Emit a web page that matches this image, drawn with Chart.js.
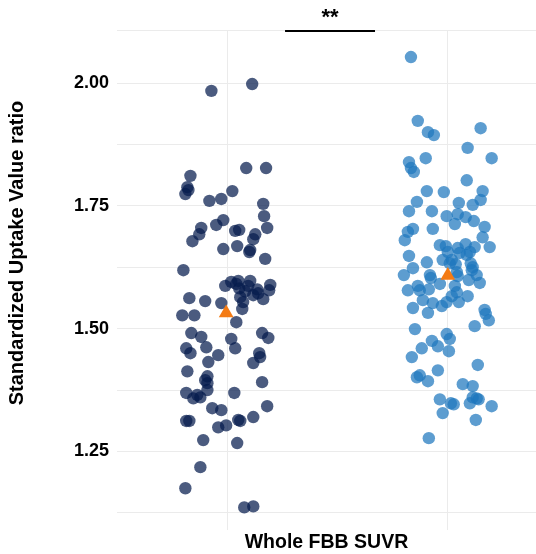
<!DOCTYPE html>
<html><head><meta charset="utf-8">
<script src="https://cdn.jsdelivr.net/npm/chart.js@4"></script>
<style>html,body{margin:0;padding:0;background:#fff;}canvas{display:block;}</style>
</head><body>
<canvas id="c" width="536" height="554"></canvas>
<script>
// ---- data ----
const groupPositions = [1, 2];
const leftJitter = [-0.072,0.113,0.086,0.176,-0.167,-0.181,-0.176,-0.190,0.023,-0.081,-0.027,0.163,0.167,-0.018,-0.050,-0.118,-0.127,-0.158,0.181,0.036,0.054,0.127,0.118,0.045,-0.018,0.100,0.104,0.172,-0.199,
  -0.009,0.018,0.050,0.104,0.054,0.081,0.136,0.195,0.190,0.118,0.140,0.163,0.059,0.072,0.068,0.041,0.095,
  -0.172,-0.100,-0.027,-0.204,-0.149,0.041,-0.163,-0.118,-0.186,-0.167,-0.095,-0.041,0.018,0.036,0.158,0.186,0.145,0.149,0.118,-0.086,-0.181,-0.090,-0.100,-0.090,0.158,-0.186,-0.154,-0.136,-0.122,-0.090,0.032,-0.068,-0.027,0.181,0.118,-0.186,-0.172,0.050,0.059,-0.041,-0.005,-0.109,0.045,-0.122,-0.190,0.077,0.118];
const leftValues = [1.984,1.998,1.827,1.827,1.811,1.788,1.782,1.774,1.780,1.760,1.764,1.754,1.729,1.721,1.711,1.705,1.692,1.678,1.705,1.699,1.701,1.692,1.682,1.668,1.662,1.656,1.660,1.642,1.619,
  1.587,1.595,1.597,1.597,1.582,1.576,1.580,1.589,1.578,1.568,1.572,1.560,1.564,1.554,1.540,1.591,1.587,
  1.562,1.556,1.552,1.527,1.527,1.513,1.491,1.483,1.460,1.450,1.462,1.446,1.479,1.460,1.491,1.481,1.450,1.442,1.430,1.432,1.413,1.403,1.395,1.389,1.391,1.369,1.358,1.365,1.360,1.375,1.369,1.338,1.334,1.342,1.320,1.312,1.312,1.314,1.312,1.299,1.303,1.273,1.267,1.218,1.175,1.136,1.138];
const rightJitter = [-0.167,-0.136,-0.090,-0.063,0.149,0.090,0.199,-0.100,-0.176,-0.167,-0.154,0.086,-0.095,-0.018,0.158,0.149,-0.140,-0.176,0.050,0.113,-0.072,-0.005,0.045,0.081,0.032,0.118,0.167,-0.158,-0.181,-0.195,
  -0.068,0.158,0.190,-0.036,-0.009,0.000,0.045,0.054,0.081,0.100,0.122,0.086,-0.176,-0.095,-0.023,0.018,0.009,0.036,0.104,0.113,0.109,-0.158,-0.199,-0.081,-0.077,0.041,0.045,0.131,0.145,0.095,
  -0.181,-0.136,-0.127,-0.086,-0.036,0.032,0.041,0.018,0.090,-0.113,-0.068,-0.027,-0.005,0.050,-0.158,-0.090,0.167,0.172,0.186,0.122,-0.149,-0.005,0.009,-0.072,-0.045,-0.118,0.005,-0.163,0.136,-0.045,
  -0.140,-0.127,-0.090,0.068,0.113,0.113,0.100,0.131,0.140,-0.036,0.014,0.027,0.199,-0.023,0.127,-0.086];
const rightValues = [2.053,1.923,1.900,1.894,1.908,1.868,1.847,1.847,1.839,1.827,1.819,1.802,1.780,1.778,1.780,1.762,1.758,1.739,1.756,1.752,1.739,1.729,1.733,1.727,1.713,1.719,1.707,1.703,1.697,1.680,
  1.703,1.686,1.666,1.670,1.668,1.656,1.664,1.654,1.672,1.656,1.666,1.650,1.648,1.635,1.640,1.640,1.633,1.631,1.633,1.625,1.619,1.623,1.609,1.609,1.603,1.615,1.607,1.609,1.593,1.599,
  1.578,1.587,1.578,1.580,1.591,1.587,1.574,1.566,1.566,1.558,1.552,1.546,1.554,1.554,1.542,1.532,1.538,1.530,1.517,1.505,1.499,1.489,1.479,1.475,1.464,1.460,1.454,1.442,1.426,1.415,
  1.401,1.405,1.393,1.387,1.383,1.360,1.348,1.358,1.356,1.356,1.348,1.346,1.342,1.328,1.314,1.277];
const meanValues = [1.532, 1.608];
const meanJitter = [-0.005, 0.0];
const yTickValues = [1.125, 1.25, 1.375, 1.5, 1.625, 1.75, 1.875, 2.0];
const yTickLabels = ['', '1.25', '', '1.50', '', '1.75', '', '2.00'];
const sigBarX = [1.262, 1.670];
const sigBarY = 2.106;
const sigLabel = '**';
const xTitle = 'Whole FBB SUVR';
const yTitle = 'Standardized Uptake Value ratio';

// ---- build ----
const Y_MIN = 1.09, Y_MAX = 2.108;
const FONT = '"Liberation Sans", Arial, Helvetica, sans-serif';
const leftPts = leftValues.map((v, i) => ({x: groupPositions[0] + leftJitter[i], y: v}));
const rightPts = rightValues.map((v, i) => ({x: groupPositions[1] + rightJitter[i], y: v}));
const meanPts = meanValues.map((v, i) => ({x: groupPositions[i] + meanJitter[i], y: v}));

const textPlugin = {
  id: 'extraText',
  afterDraw(chart) {
    const {ctx, scales: {x, y}} = chart;
    ctx.save();
    ctx.fillStyle = '#000';
    ctx.textAlign = 'center';
    ctx.textBaseline = 'middle';
    ctx.font = 'bold 22px ' + FONT;
    const mx = x.getPixelForValue((sigBarX[0] + sigBarX[1]) / 2);
    const my = y.getPixelForValue(sigBarY);
    ctx.fillText(sigLabel, mx, my - 13);
    ctx.translate(17, 253);
    ctx.rotate(-Math.PI / 2);
    ctx.font = 'bold 20px ' + FONT;
    ctx.fillText(yTitle, 0, 0);
    ctx.restore();
  }
};

new Chart(document.getElementById('c'), {
  type: 'scatter',
  data: {
    datasets: [
      {label: 'sig', type: 'line', data: sigBarX.map(v => ({x: v, y: sigBarY})), borderColor: '#000', borderWidth: 2, pointRadius: 0, clip: false, order: 0},
      {label: 'mean', data: meanPts, pointStyle: 'triangle', pointRadius: 8.5, pointHoverRadius: 8.5, backgroundColor: '#f47b14', borderWidth: 0, order: 1},
      {label: 'right', data: rightPts, pointRadius: 6.2, pointHoverRadius: 6.2, backgroundColor: 'rgba(31,119,190,0.72)', borderWidth: 0, order: 2},
      {label: 'left', data: leftPts, pointRadius: 6.2, pointHoverRadius: 6.2, backgroundColor: 'rgba(5,28,78,0.72)', borderWidth: 0, order: 3}
    ]
  },
  options: {
    responsive: false,
    animation: false,
    devicePixelRatio: 1,
    layout: {autoPadding: false, padding: {top: 30, right: 0, left: 0, bottom: 0}},
    plugins: {legend: {display: false}, tooltip: {enabled: false}},
    scales: {
      x: {
        type: 'linear', min: 0.5, max: 2.4,
        afterBuildTicks: s => { s.ticks = groupPositions.map(v => ({value: v})); },
        afterFit: s => { s.height = 24; },
        ticks: {display: false},
        grid: {color: '#ebebeb', lineWidth: 1, drawTicks: false},
        border: {display: false},
        title: {display: true, text: xTitle, color: '#000', font: {family: FONT, size: 19.5, weight: 'bold'}, padding: 0}
      },
      y: {
        type: 'linear', min: Y_MIN, max: Y_MAX,
        afterBuildTicks: s => { s.ticks = yTickValues.concat([Y_MAX]).map(v => ({value: v})); },
        afterFit: s => { s.width = 117; },
        ticks: {
          color: '#000', padding: 8, autoSkip: false,
          font: {family: FONT, size: 18, weight: 'bold'},
          callback: (v) => { const i = yTickValues.indexOf(v); return i >= 0 ? yTickLabels[i] : ''; }
        },
        grid: {color: '#ebebeb', lineWidth: 1, drawTicks: false},
        border: {display: false},
        title: {display: false}
      }
    }
  },
  plugins: [textPlugin]
});
</script>
</body></html>
